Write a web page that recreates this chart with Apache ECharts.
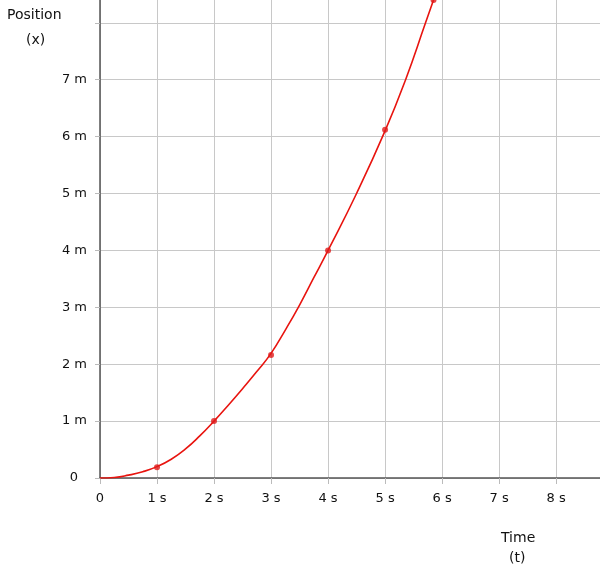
<!DOCTYPE html>
<html>
<head>
<meta charset="utf-8">
<script src="https://cdn.jsdelivr.net/npm/echarts@6/dist/echarts.min.js"></script>
<style>
  html, body { margin: 0; padding: 0; background: #fff; }
  #main { width: 600px; height: 576px; }
</style>
</head>
<body>
<div id="main"></div>
<script>
// position vs time
var curveTimes = [0, 0.25, 0.5, 0.75, 1, 1.25, 1.5, 1.75, 2, 2.25, 2.5, 2.75, 3, 3.25, 3.5, 3.75, 4, 4.5, 5, 5.36, 5.71, 5.85];
var curvePos = [0, 0.01, 0.05, 0.11, 0.2, 0.33, 0.51, 0.74, 1.0, 1.28, 1.57, 1.87, 2.19, 2.6, 3.04, 3.52, 4.0, 5.0, 6.1, 7.0, 8.0, 8.4];
var dotTimes = [1, 2, 3, 4, 5, 5.85];
var dotPos = [0.19, 1.0, 2.16, 4.0, 6.12, 8.4];
var xTicks = [0, 1, 2, 3, 4, 5, 6, 7, 8];
var yTicks = [0, 1, 2, 3, 4, 5, 6, 7];

var FONT = 'DejaVu Sans';
var myChart = echarts.init(document.getElementById('main'));

var curve = curveTimes.map(function (t, i) { return [t, curvePos[i]]; });
var dots = dotTimes.map(function (t, i) { return [t, dotPos[i]]; });

var option = {
    animation: false,
    grid: { left: 100, right: 0, top: 0, bottom: 98, containLabel: false },
    xAxis: {
        type: 'value',
        min: 0,
        max: 8.77,
        interval: 1,
        axisLine: { lineStyle: { color: '#555', width: 1.5 } },
        axisTick: { show: true, length: 6, lineStyle: { color: '#bbb' } },
        splitLine: { show: true, showMaxLine: false, lineStyle: { color: '#c8c8c8' } },
        axisLabel: {
            margin: 14,
            color: '#111',
            fontFamily: FONT,
            fontSize: 13,
            showMaxLabel: false,
            formatter: function (v) {
                if (xTicks.indexOf(v) < 0) return '';
                return v === 0 ? '0' : v + ' s';
            }
        }
    },
    yAxis: {
        type: 'value',
        min: 0,
        max: 8.4,
        interval: 1,
        axisLine: { show: true, lineStyle: { color: '#555', width: 1.5 } },
        axisTick: { show: true, length: 5, lineStyle: { color: '#bbb' } },
        splitLine: { show: true, showMaxLine: false, lineStyle: { color: '#c8c8c8' } },
        axisLabel: {
            margin: 13,
            color: '#111',
            fontFamily: FONT,
            fontSize: 13,
            showMaxLabel: false,
            formatter: function (v) {
                if (yTicks.indexOf(v) < 0) return '';
                return v === 0 ? '{z|0}' : v + ' m';
            },
            rich: {
                z: { fontFamily: FONT, fontSize: 13, color: '#111', padding: [0, 9, 0, 0] }
            }
        }
    },
    graphic: [
        {
            type: 'text', left: 7, top: 8,
            style: { text: 'Position', font: '14px ' + FONT, fill: '#111' }
        },
        {
            type: 'text', left: 26, top: 33,
            style: { text: '(x)', font: '14px ' + FONT, fill: '#111' }
        },
        {
            type: 'text', left: 501, top: 531,
            style: { text: 'Time', font: '14px ' + FONT, fill: '#111' }
        },
        {
            type: 'text', left: 509, top: 551,
            style: { text: '(t)', font: '14px ' + FONT, fill: '#111' }
        }
    ],
    series: [
        {
            type: 'line',
            data: curve,
            smooth: 0.5,
            showSymbol: false,
            lineStyle: { color: '#e8140f', width: 1.6 },
            z: 3
        },
        {
            type: 'scatter',
            data: dots,
            symbolSize: 6,
            itemStyle: { color: '#e01a1a' },
            z: 4
        }
    ]
};

if (option && typeof option === "object") {
    myChart.setOption(option, true);
}
</script>
</body>
</html>
